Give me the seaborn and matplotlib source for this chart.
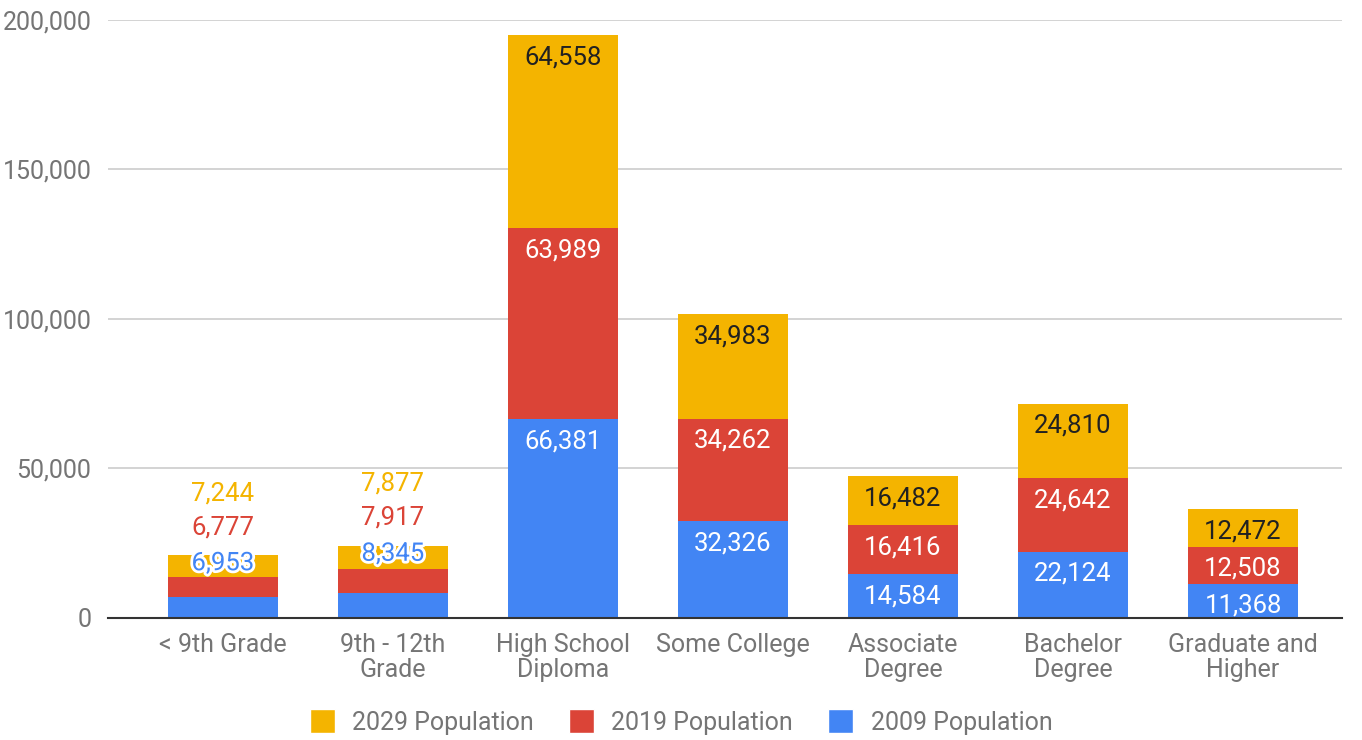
import matplotlib
matplotlib.use("Agg")
import matplotlib.pyplot as plt
import matplotlib.patheffects as pe
from matplotlib.patches import Patch
import seaborn as sns
import numpy as np
import pandas as pd

categories = ["< 9th Grade", "9th - 12th\nGrade", "High School\nDiploma", "Some College",
              "Associate\nDegree", "Bachelor\nDegree", "Graduate and\nHigher"]
pop_2009 = [6953, 8345, 66381, 32326, 14584, 22124, 11368]
pop_2019 = [6777, 7917, 63989, 34262, 16416, 24642, 12508]
pop_2029 = [7244, 7877, 64558, 34983, 16482, 24810, 12472]
series_names = ["2029 Population", "2019 Population", "2009 Population"]
yticks = [0, 50000, 100000, 150000, 200000]

BLUE, RED, YELLOW = "#4285F4", "#DB4437", "#F4B400"

sns.set_theme(style="white")
plt.rcParams["font.family"] = ["Roboto", "DejaVu Sans"]

df = pd.DataFrame({"cat": categories, "p09": pop_2009, "p19": pop_2019, "p29": pop_2029})
df["c19"] = df["p09"] + df["p19"]
df["c29"] = df["c19"] + df["p29"]

fig = plt.figure(figsize=(13.62, 7.40), dpi=100)
ax = fig.add_axes([0.0793, 0.1649, 0.906, 0.8081])

W = 0.647
for col, c in [("c29", YELLOW), ("c19", RED), ("p09", BLUE)]:
    sns.barplot(data=df, x="cat", y=col, color=c, width=W, saturation=1, ax=ax,
                zorder=3, linewidth=0, edgecolor="none")

ax.set_ylim(0, 200000)
ax.set_xlim(-0.676, 6.582)
ax.set_yticks(yticks)
ax.set_yticklabels([f"{v:,}" for v in yticks])
ax.yaxis.grid(True, color="#cccccc", linewidth=1.2, zorder=0)
ax.set_axisbelow(True)
for s in ["top", "right", "left"]:
    ax.spines[s].set_visible(False)
ax.spines["bottom"].set_color("#333333")
ax.spines["bottom"].set_linewidth(1.5)
ax.spines["bottom"].set_zorder(5)
ax.tick_params(axis="both", length=0, colors="#757575", labelsize=18)
ax.tick_params(axis="x", pad=11)
ax.tick_params(axis="y", pad=12)
ax.set_xlabel("")
ax.set_ylabel("")
for lab in ax.get_xticklabels():
    lab.set_linespacing(1.05)

fs = 18.5
for i in range(len(categories)):
    tops = [df["p09"][i], df["c19"][i], df["c29"][i]]
    vals = [pop_2009[i], pop_2019[i], pop_2029[i]]
    cols = [BLUE, RED, YELLOW]
    total = tops[2]
    if total < 30000:
        offs = [-8, 28, 62]
        for k in range(3):
            t = ax.annotate(f"{vals[k]:,}", (i, total), xytext=(0, offs[k] * 0.72),
                            textcoords="offset points", ha="center", va="center",
                            fontsize=fs, color=cols[k], zorder=6)
            if k == 0:
                t.set_path_effects([pe.withStroke(linewidth=4, foreground="white")])
    else:
        tcols = ["white", "white", "#212121"]
        for k in range(3):
            ax.annotate(f"{vals[k]:,}", (i, tops[k]), xytext=(0, -22 * 0.72),
                        textcoords="offset points", ha="center", va="center",
                        fontsize=fs, color=tcols[k], zorder=6)

handles = [Patch(facecolor=YELLOW), Patch(facecolor=RED), Patch(facecolor=BLUE)]
leg = fig.legend(handles, series_names, loc="center", bbox_to_anchor=(0.5, 1 - 722 / 740),
                 ncol=3, frameon=False, fontsize=18, handlelength=1.0, handleheight=1.1,
                 columnspacing=1.4, handletextpad=0.7)
for t in leg.get_texts():
    t.set_color("#757575")

fig.savefig("out.png", dpi=100)
